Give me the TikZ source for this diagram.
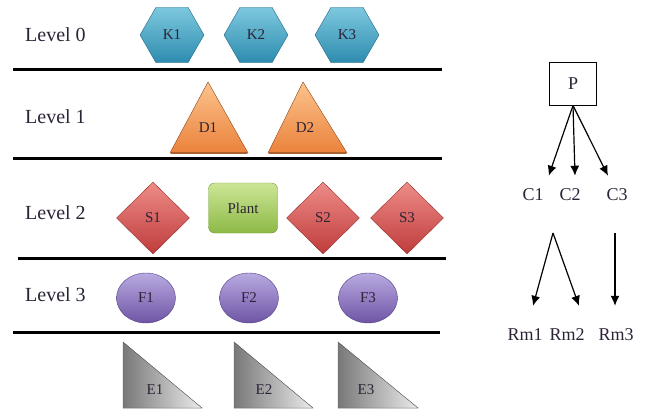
\documentclass[tikz,border=0pt]{standalone}
\usepackage{fontspec}
\setmainfont{Liberation Serif}
\usetikzlibrary{positioning, shapes.geometric, arrows.meta}
\definecolor{ink}{RGB}{45, 35, 55}
\definecolor{hexTop}{RGB}{125, 200, 222}
\definecolor{hexBot}{RGB}{45, 140, 175}
\definecolor{hexEdge}{RGB}{35, 105, 135}
\definecolor{triTop}{RGB}{252, 195, 140}
\definecolor{triBot}{RGB}{235, 130, 60}
\definecolor{triEdge}{RGB}{170, 95, 45}
\definecolor{dmdTop}{RGB}{238, 140, 135}
\definecolor{dmdBot}{RGB}{190, 60, 60}
\definecolor{dmdEdge}{RGB}{150, 45, 45}
\definecolor{plantTop}{RGB}{205, 230, 150}
\definecolor{plantBot}{RGB}{140, 185, 70}
\definecolor{plantEdge}{RGB}{115, 155, 55}
\definecolor{ellTop}{RGB}{185, 170, 225}
\definecolor{ellBot}{RGB}{110, 85, 165}
\definecolor{ellEdge}{RGB}{85, 65, 135}
\definecolor{endDark}{RGB}{120, 120, 120}
\definecolor{endLight}{RGB}{235, 235, 235}

\begin{document}
\begin{tikzpicture}[
    x=1pt, y=-1pt,
    lvl/.style={text=ink, font=\fontsize{20}{22}\selectfont, anchor=west, inner sep=0pt},
    tag/.style={text=ink, font=\fontsize{15}{16}\selectfont},
    sep/.style={line width=3pt, black},
    hex_style/.style={
        regular polygon,
        regular polygon sides=6,
        minimum size=64pt,
        inner sep=0pt,
        draw=hexEdge,
        top color=hexTop,
        bottom color=hexBot,
        tag
    },
    tri_style/.style={draw=triEdge, top color=triTop, bottom color=triBot},
    dmd_style/.style={
        diamond,
        minimum width=73pt,
        minimum height=72pt,
        inner sep=0pt,
        draw=dmdEdge,
        top color=dmdTop,
        bottom color=dmdBot,
        tag
    },
    plant_style/.style={
        rectangle,
        rounded corners=6pt,
        minimum width=69pt,
        minimum height=50pt,
        draw=plantEdge,
        top color=plantTop,
        bottom color=plantBot,
        tag
    },
    ell_style/.style={
        ellipse,
        minimum width=59pt,
        minimum height=50pt,
        inner sep=0pt,
        draw=ellEdge,
        top color=ellTop,
        bottom color=ellBot,
        tag
    },
    end_style/.style={draw=endDark!80!black, left color=endDark, right color=endLight},
    tree/.style={text=ink, font=\fontsize{18}{19}\selectfont, inner sep=1pt},
    arr/.style={-{Latex[length=10pt, width=9pt]}, line width=1.2pt}
]
\useasboundingbox (0,0) rectangle (660,417);

% levels
\node[lvl] (l0) at (25,35) {Level 0};
\node[lvl] (l1) at (25,117) {Level 1};
\node[lvl] (l2) at (25,213) {Level 2};
\node[lvl] (l3) at (25,295) {Level 3};

\draw[sep] (13,70) -- (442,70);
\draw[sep] (13,158) -- (442,158);
\draw[sep] (18,258) -- (446,258);
\draw[sep] (13,332) -- (440,332);

% level 0
\node[hex_style] (k1) at (172,35) {K1};
\node[hex_style] (k2) at (256,35) {K2};
\node[hex_style] (k3) at (347,35) {K3};

% level 1
\fill[tri_style] (170,153) -- (208,82) -- (248,153) -- cycle;
\draw[triEdge, line width=2.5pt] (171,153) -- (247,153);
\node[tag] (d1) at (208,128) {D1};
\fill[tri_style] (268,153) -- (303,82) -- (347,153) -- cycle;
\draw[triEdge, line width=2.5pt] (269,153) -- (346,153);
\node[tag] (d2) at (305,128) {D2};

% level 2
\node[dmd_style] (s1) at (153,218) {S1};
\node[plant_style] (plant) at (243,208) {Plant};
\node[dmd_style] (s2) at (323,218) {S2};
\node[dmd_style] (s3) at (407,218) {S3};

% level 3
\node[ell_style] (f1) at (146,298) {F1};
\node[ell_style] (f2) at (249,298) {F2};
\node[ell_style] (f3) at (368,298) {F3};

% bottom row
\fill[end_style] (123,342) -- (123,408) -- (202,408) -- cycle;
\node[tag] (e1) at (155,390) {E1};
\fill[end_style] (234,342) -- (234,408) -- (313,408) -- cycle;
\node[tag] (e2) at (264,390) {E2};
\fill[end_style] (338,342) -- (338,408) -- (418,408) -- cycle;
\node[tag] (e3) at (366,390) {E3};

% tree
\node[tree, draw, line width=1pt, minimum width=47pt, minimum height=42pt] (p) at (573,84) {P};
\node[tree] (c1) at (533,195) {C1};
\node[tree] (c2) at (570,195) {C2};
\node[tree] (c3) at (617,195) {C3};

\draw[arr] (p.south) -- ([xshift=4pt, yshift=12pt]c1.north east);
\draw[arr] (p.south) -- ([xshift=5pt, yshift=12pt]c2.north);
\draw[arr] (p.south) -- ([xshift=-9pt, yshift=12pt]c3.north);

\node[tree] (rm1) at (525,335) {Rm1};
\node[tree] (rm2) at (567,335) {Rm2};
\node[tree] (rm3) at (616,335) {Rm3};

\coordinate (fork) at (553,233);
\coordinate (drop) at (615,233);
\draw[arr] (fork) -- ([xshift=8pt, yshift=22pt]rm1.north);
\draw[arr] (fork) -- ([xshift=12pt, yshift=22pt]rm2.north);
\draw[arr] (drop) -- ([xshift=-1pt, yshift=22pt]rm3.north);

\end{tikzpicture}
\end{document}
